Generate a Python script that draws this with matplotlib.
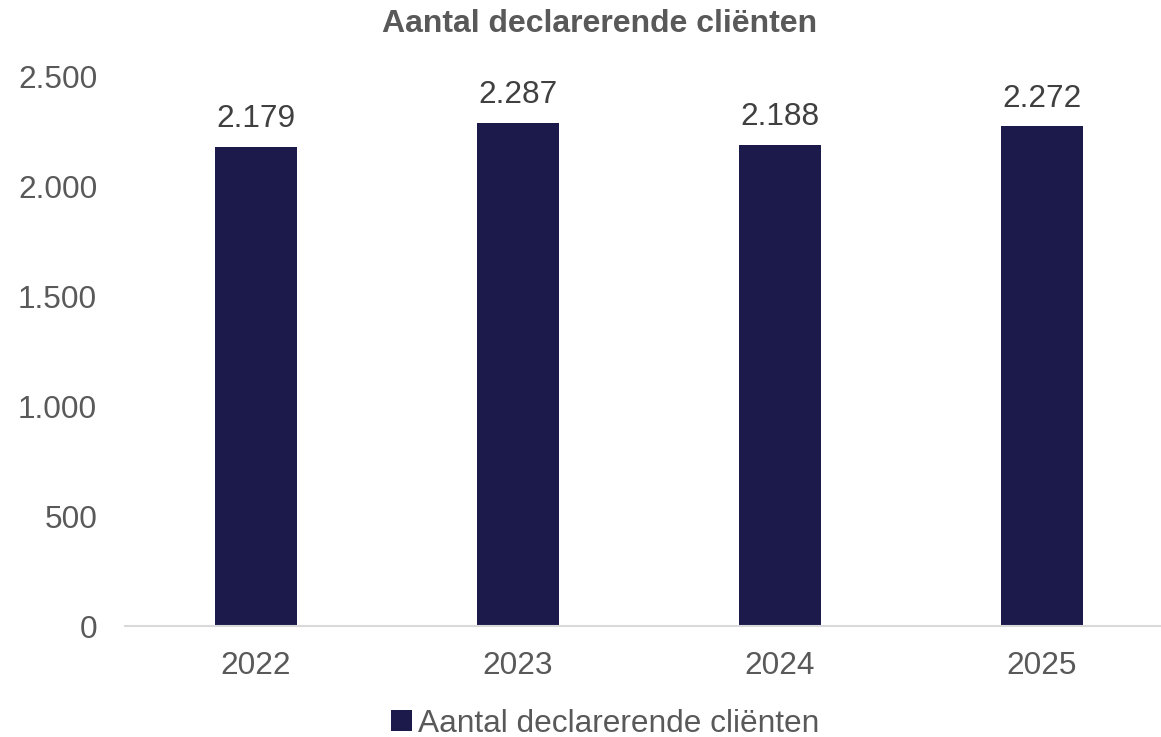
import matplotlib.pyplot as plt
from matplotlib.ticker import FuncFormatter

jaren = ["2022", "2023", "2024", "2025"]
aantallen = [2179, 2287, 2188, 2272]
reeks_naam = "Aantal declarerende cliënten"
titel = "Aantal declarerende cliënten"

plt.rcParams['font.family'] = ['Liberation Sans', 'DejaVu Sans']

W, H = 1161, 737
fig = plt.figure(figsize=(W / 100, H / 100), dpi=100)
# axes in pixel units: left 125, bottom(y=626), top(y=76)
ax = fig.add_axes([125 / W, (H - 626) / H, (W - 125) / W, 550 / H])

x = list(range(len(jaren)))
bars = ax.bar(x, aantallen, width=0.313, color="#1b1a4b", label=reeks_naam, zorder=2)

ax.set_ylim(0, 2500)
ax.set_xlim(-0.5, 3.456)
ax.set_yticks(range(0, 2501, 500))
ax.yaxis.set_major_formatter(FuncFormatter(lambda v, p: f"{int(v):,}".replace(",", ".")))
ax.set_xticks(x)
ax.set_xticklabels(jaren)

for s in ["top", "right", "left"]:
    ax.spines[s].set_visible(False)
ax.spines["bottom"].set_color("#d9d9d9")
ax.spines["bottom"].set_linewidth(1.5)
ax.tick_params(axis="both", length=0, labelsize=22.8, labelcolor="#595959")
ax.tick_params(axis="y", pad=20)
ax.tick_params(axis="x", pad=18)

for b, v in zip(bars, aantallen):
    ax.annotate(f"{v:,}".replace(",", "."), (b.get_x() + b.get_width() / 2, v),
                xytext=(0, 9), textcoords="offset points", ha="center", va="bottom",
                fontsize=22.8, color="#404040")

fig.text(600 / W, 1 - 24 / H, titel, ha="center", va="center",
         fontsize=23, fontweight="bold", color="#595959")

fig.legend(loc="center", bbox_to_anchor=(605 / W, 1 - 724 / H), frameon=False,
           fontsize=22.8, labelcolor="#595959", handlelength=0.65, handleheight=0.65,
           handletextpad=0.2, borderpad=0)

fig.savefig("out.png", dpi=100)
